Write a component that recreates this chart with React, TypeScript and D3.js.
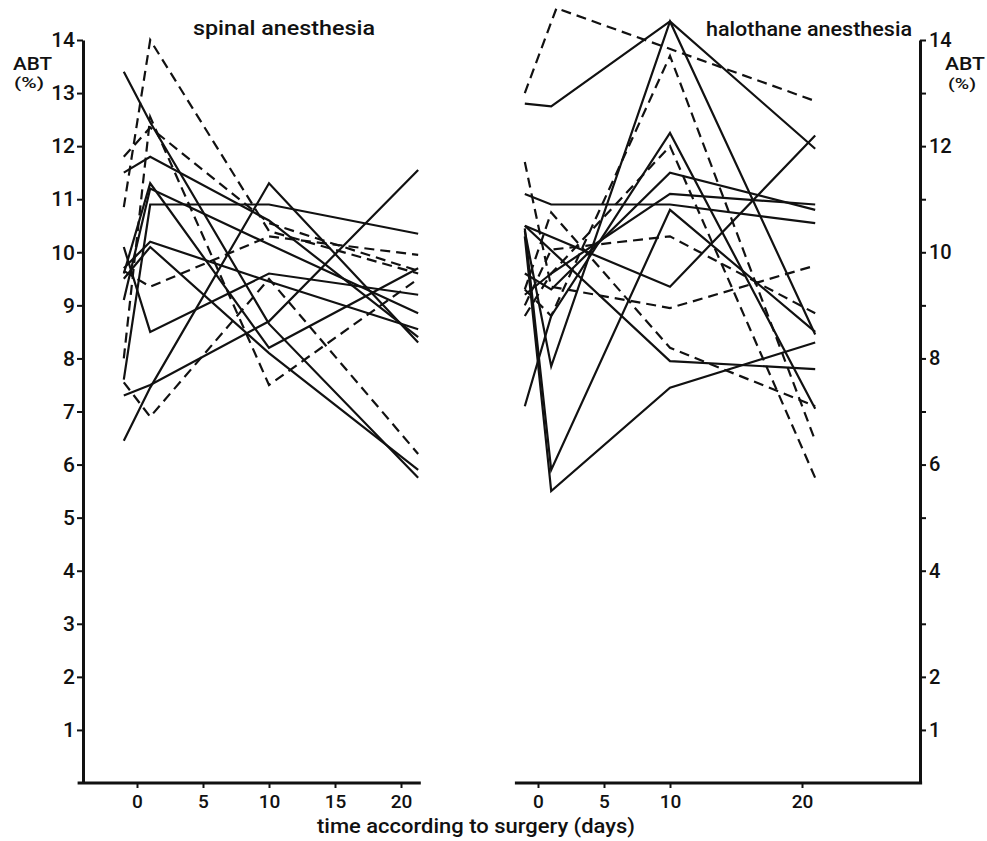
import React, { useEffect, useRef } from "react";
import * as d3 from "d3";

const WIDTH = 987;
const HEIGHT = 841;
const FONT = "Roboto, 'DejaVu Sans', sans-serif";

type Pt = [number, number]; // [day relative to surgery, ABT %]

// axis ticks
const Y_TICKS = [1, 2, 3, 4, 5, 6, 7, 8, 9, 10, 11, 12, 13, 14];
const RIGHT_Y_LABELS = [14, 12, 10, 8, 6, 4, 2, 1];
const SPINAL_DAY_TICKS = [0, 5, 10, 15, 20];
const HALO_DAY_TICKS = [0, 5, 10, 20];

// spinal anesthesia, one array per patient
const spinalSolid: Pt[][] = [
  [[-1, 7.6], [1, 10.9], [10, 10.9], [21.3, 10.35]],
  [[-1, 9.1], [1, 11.2], [10, 10.15], [21.3, 8.85]],
  [[-1, 9.6], [1, 11.3], [10, 8.2], [21.3, 9.7]],
  [[-1, 7.3], [1, 7.5], [10, 8.7], [21.3, 11.55]],
  [[-1, 6.45], [1, 7.45], [10, 11.3], [21.3, 8.3]],
  [[-1, 10.1], [1, 8.5], [10, 9.6], [21.3, 9.2]],
  [[-1, 9.7], [1, 10.2], [10, 9.45], [21.3, 8.55]],
  [[-1, 9.5], [1, 10.1], [10, 8.1], [21.3, 5.9]],
  [[-1, 13.4], [1, 12.45], [10, 8.65], [21.3, 5.75]],
  [[-1, 11.5], [1, 11.8], [10, 10.6], [21.3, 8.4]],
];
const spinalDashed: Pt[][] = [
  [[-1, 10.85], [1, 14.0], [10, 10.4], [21.3, 9.6]],
  [[-1, 11.8], [1, 12.35], [10, 10.55], [21.3, 9.65]],
  [[-1, 9.65], [1, 9.35], [10, 10.3], [21.3, 9.95]],
  [[-1, 7.55], [1, 6.9], [10, 9.5], [21.3, 6.2]],
  [[-1, 8.0], [1, 12.55], [10, 7.5], [21.3, 9.5]],
];

// halothane anesthesia
const haloSolid: Pt[][] = [
  [[-1, 12.8], [1, 12.75], [10, 14.35], [21, 11.95]],
  [[-1, 11.1], [1, 10.9], [10, 10.9], [21, 10.55]],
  [[-1, 9.6], [1, 9.3], [10, 11.5], [21, 10.8]],
  [[-1, 9.2], [1, 9.6], [10, 11.1], [21, 10.9]],
  [[-1, 10.45], [1, 5.9], [10, 10.8], [21, 8.5]],
  [[-1, 10.3], [1, 5.5], [10, 7.45], [21, 8.3]],
  [[-1, 10.5], [10, 9.35], [21, 12.2]],
  [[-1, 10.5], [10, 7.95], [21, 7.8]],
  [[-1, 10.4], [1, 7.85], [10, 14.35], [21, 8.45]],
  [[-1, 7.1], [1, 8.8], [10, 12.25], [21, 7.05]],
];
const haloDashed: Pt[][] = [
  [[-1, 13.0], [1.4, 14.6], [21, 12.85]],
  [[-1, 8.8], [1, 9.6], [10, 12.0], [21, 5.75]],
  [[-1, 9.3], [1, 8.8], [10, 13.7], [21, 6.45]],
  [[-1, 11.7], [1, 9.35], [10, 8.95], [21, 9.75]],
  [[-1, 9.0], [1, 10.05], [10, 10.3], [21, 8.85]],
  [[-1, 9.3], [1, 10.75], [10, 8.2], [21, 7.1]],
];

const App: React.FC = () => {
  const svgRef = useRef<SVGSVGElement | null>(null);

  useEffect(() => {
    const svg = d3.select(svgRef.current);
    svg.selectAll("*").remove();

    const y = d3.scaleLinear().domain([0, 14]).range([783, 40]);
    const xL = d3.scaleLinear().domain([0, 20]).range([137, 401]);
    const xR = d3.scaleLinear().domain([0, 20]).range([538, 802]);

    const drawLines = (x: d3.ScaleLinear<number, number>, data: Pt[][], dashed: boolean) => {
      const gen = d3.line<Pt>().x((d) => x(d[0])).y((d) => y(d[1]));
      svg
        .append("g")
        .selectAll("path")
        .data(data)
        .join("path")
        .attr("d", gen)
        .attr("fill", "none")
        .attr("stroke", "#111")
        .attr("stroke-width", 2.2)
        .attr("stroke-linejoin", "miter")
        .attr("stroke-dasharray", dashed ? "10,6" : null);
    };
    drawLines(xL, spinalSolid, false);
    drawLines(xL, spinalDashed, true);
    drawLines(xR, haloSolid, false);
    drawLines(xR, haloDashed, true);

    const styleAxis = (g: any, size: number) => {
      g.select(".domain").attr("stroke", "#111").attr("stroke-width", 3);
      g.selectAll(".tick line").attr("stroke", "#111").attr("stroke-width", 2);
      g.selectAll(".tick text")
        .attr("fill", "#111")
        .style("font-family", FONT)
        .style("font-weight", 500)
        .style("font-size", `${size}px`);
    };

    // y axes
    const yLeft = svg
      .append("g")
      .attr("transform", "translate(83,0)")
      .call(d3.axisLeft(y).tickValues(Y_TICKS).tickSize(6).tickSizeOuter(0).tickPadding(2) as any);
    styleAxis(yLeft, 21);

    const yRight = svg
      .append("g")
      .attr("transform", "translate(920,0)")
      .call(
        d3
          .axisRight(y)
          .tickValues(Y_TICKS)
          .tickSize(6)
          .tickSizeOuter(0)
          .tickPadding(3)
          .tickFormat((d) => (RIGHT_Y_LABELS.includes(d as number) ? String(d) : "")) as any
      );
    styleAxis(yRight, 20);

    // x axes
    const xAxis = (x: d3.ScaleLinear<number, number>, ticks: number[], from: number, to: number) => {
      svg
        .append("line")
        .attr("x1", x(from))
        .attr("x2", x(to))
        .attr("y1", 783)
        .attr("y2", 783)
        .attr("stroke", "#111")
        .attr("stroke-width", 3);
      const g = svg
        .append("g")
        .attr("transform", "translate(0,783)")
        .call(d3.axisBottom(x).tickValues(ticks).tickSize(5).tickPadding(7) as any);
      g.select(".domain").remove();
      styleAxis(g, 19);
    };
    xAxis(xL, SPINAL_DAY_TICKS, -4.5, 21.5);
    xAxis(xR, HALO_DAY_TICKS, -1.75, 29.1);

    const text = (t: string, x: number, yy: number, size: number, len?: number) => {
      const el = svg
        .append("text")
        .attr("x", x)
        .attr("y", yy)
        .attr("fill", "#111")
        .style("font-family", FONT)
        .style("font-weight", 500)
        .style("font-size", `${size}px`)
        .text(t);
      if (len) el.attr("textLength", len).attr("lengthAdjust", "spacingAndGlyphs");
    };
    text("spinal anesthesia", 193, 35, 21, 182);
    text("halothane anesthesia", 706, 36, 21, 206);
    text("ABT", 13, 70, 19, 39);
    text("(%)", 14, 88, 15, 30);
    text("ABT", 945, 70, 19, 40);
    text("(%)", 948, 89, 15, 28);
    text("time according to surgery (days)", 317, 833, 20, 318);
  }, []);

  return (
    <svg
      ref={svgRef}
      width={WIDTH}
      height={HEIGHT}
      style={{ position: "absolute", left: 0, top: 0, background: "#fff" }}
    />
  );
};

export default App;
